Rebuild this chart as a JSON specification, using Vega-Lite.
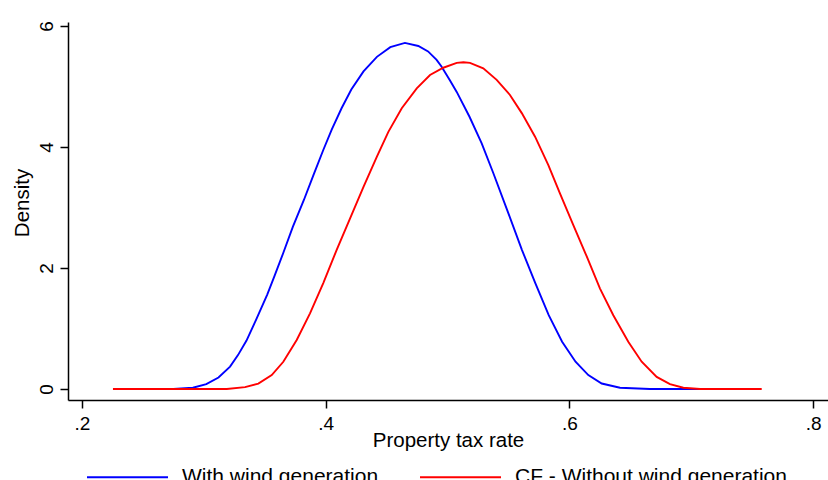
{
  "$schema": "https://vega.github.io/schema/vega-lite/v6.json",
  "width": 760,
  "height": 378,
  "autosize": {"type": "none"},
  "padding": {"left": 68, "top": 22, "right": 0, "bottom": 80},
  "background": "white",
  "config": {
    "view": {"stroke": null},
    "font": "Liberation Sans",
    "axis": {
      "grid": false,
      "domainColor": "black",
      "tickColor": "black",
      "labelColor": "black",
      "titleColor": "black",
      "domainWidth": 1.5,
      "tickWidth": 1.5,
      "labelFont": "Liberation Sans",
      "titleFont": "Liberation Sans",
      "titleFontWeight": "normal",
      "labelFlush": false,
      "labelOverlap": false
    }
  },
  "data": {
    "values": [
      {"x": 0.275, "y": 0, "series": "With wind generation"},
      {"x": 0.291, "y": 0.02, "series": "With wind generation"},
      {"x": 0.302, "y": 0.08, "series": "With wind generation"},
      {"x": 0.312, "y": 0.19, "series": "With wind generation"},
      {"x": 0.3215, "y": 0.37, "series": "With wind generation"},
      {"x": 0.328, "y": 0.56, "series": "With wind generation"},
      {"x": 0.335, "y": 0.80, "series": "With wind generation"},
      {"x": 0.343, "y": 1.15, "series": "With wind generation"},
      {"x": 0.352, "y": 1.56, "series": "With wind generation"},
      {"x": 0.358, "y": 1.87, "series": "With wind generation"},
      {"x": 0.365, "y": 2.24, "series": "With wind generation"},
      {"x": 0.373, "y": 2.68, "series": "With wind generation"},
      {"x": 0.382, "y": 3.12, "series": "With wind generation"},
      {"x": 0.390, "y": 3.54, "series": "With wind generation"},
      {"x": 0.398, "y": 3.95, "series": "With wind generation"},
      {"x": 0.405, "y": 4.29, "series": "With wind generation"},
      {"x": 0.413, "y": 4.64, "series": "With wind generation"},
      {"x": 0.421, "y": 4.95, "series": "With wind generation"},
      {"x": 0.431, "y": 5.25, "series": "With wind generation"},
      {"x": 0.442, "y": 5.49, "series": "With wind generation"},
      {"x": 0.453, "y": 5.65, "series": "With wind generation"},
      {"x": 0.465, "y": 5.72, "series": "With wind generation"},
      {"x": 0.476, "y": 5.67, "series": "With wind generation"},
      {"x": 0.484, "y": 5.58, "series": "With wind generation"},
      {"x": 0.491, "y": 5.44, "series": "With wind generation"},
      {"x": 0.495, "y": 5.33, "series": "With wind generation"},
      {"x": 0.502, "y": 5.10, "series": "With wind generation"},
      {"x": 0.5075, "y": 4.91, "series": "With wind generation"},
      {"x": 0.518, "y": 4.50, "series": "With wind generation"},
      {"x": 0.528, "y": 4.06, "series": "With wind generation"},
      {"x": 0.5375, "y": 3.57, "series": "With wind generation"},
      {"x": 0.550, "y": 2.90, "series": "With wind generation"},
      {"x": 0.561, "y": 2.30, "series": "With wind generation"},
      {"x": 0.572, "y": 1.75, "series": "With wind generation"},
      {"x": 0.583, "y": 1.22, "series": "With wind generation"},
      {"x": 0.594, "y": 0.78, "series": "With wind generation"},
      {"x": 0.605, "y": 0.45, "series": "With wind generation"},
      {"x": 0.6155, "y": 0.23, "series": "With wind generation"},
      {"x": 0.6265, "y": 0.09, "series": "With wind generation"},
      {"x": 0.6415, "y": 0.02, "series": "With wind generation"},
      {"x": 0.666, "y": 0, "series": "With wind generation"},
      {"x": 0.707, "y": 0, "series": "With wind generation"},
      {"x": 0.2254, "y": 0, "series": "CF - Without wind generation"},
      {"x": 0.3188, "y": 0, "series": "CF - Without wind generation"},
      {"x": 0.3338, "y": 0.03, "series": "CF - Without wind generation"},
      {"x": 0.3447, "y": 0.09, "series": "CF - Without wind generation"},
      {"x": 0.3557, "y": 0.23, "series": "CF - Without wind generation"},
      {"x": 0.3652, "y": 0.45, "series": "CF - Without wind generation"},
      {"x": 0.3762, "y": 0.81, "series": "CF - Without wind generation"},
      {"x": 0.3871, "y": 1.25, "series": "CF - Without wind generation"},
      {"x": 0.398, "y": 1.75, "series": "CF - Without wind generation"},
      {"x": 0.409, "y": 2.30, "series": "CF - Without wind generation"},
      {"x": 0.420, "y": 2.82, "series": "CF - Without wind generation"},
      {"x": 0.431, "y": 3.34, "series": "CF - Without wind generation"},
      {"x": 0.442, "y": 3.84, "series": "CF - Without wind generation"},
      {"x": 0.4514, "y": 4.25, "series": "CF - Without wind generation"},
      {"x": 0.4624, "y": 4.64, "series": "CF - Without wind generation"},
      {"x": 0.4747, "y": 4.97, "series": "CF - Without wind generation"},
      {"x": 0.4856, "y": 5.19, "series": "CF - Without wind generation"},
      {"x": 0.4965, "y": 5.31, "series": "CF - Without wind generation"},
      {"x": 0.5075, "y": 5.39, "series": "CF - Without wind generation"},
      {"x": 0.513, "y": 5.40, "series": "CF - Without wind generation"},
      {"x": 0.5184, "y": 5.39, "series": "CF - Without wind generation"},
      {"x": 0.5293, "y": 5.30, "series": "CF - Without wind generation"},
      {"x": 0.5403, "y": 5.11, "series": "CF - Without wind generation"},
      {"x": 0.5512, "y": 4.86, "series": "CF - Without wind generation"},
      {"x": 0.5609, "y": 4.56, "series": "CF - Without wind generation"},
      {"x": 0.5718, "y": 4.17, "series": "CF - Without wind generation"},
      {"x": 0.5827, "y": 3.70, "series": "CF - Without wind generation"},
      {"x": 0.5923, "y": 3.23, "series": "CF - Without wind generation"},
      {"x": 0.6032, "y": 2.71, "series": "CF - Without wind generation"},
      {"x": 0.6142, "y": 2.19, "series": "CF - Without wind generation"},
      {"x": 0.6251, "y": 1.66, "series": "CF - Without wind generation"},
      {"x": 0.636, "y": 1.22, "series": "CF - Without wind generation"},
      {"x": 0.6483, "y": 0.78, "series": "CF - Without wind generation"},
      {"x": 0.6593, "y": 0.45, "series": "CF - Without wind generation"},
      {"x": 0.6716, "y": 0.20, "series": "CF - Without wind generation"},
      {"x": 0.6825, "y": 0.08, "series": "CF - Without wind generation"},
      {"x": 0.6935, "y": 0.02, "series": "CF - Without wind generation"},
      {"x": 0.7072, "y": 0, "series": "CF - Without wind generation"},
      {"x": 0.7578, "y": 0, "series": "CF - Without wind generation"}
    ]
  },
  "mark": {"type": "line", "strokeWidth": 1.9, "clip": false},
  "encoding": {
    "x": {
      "field": "x",
      "type": "quantitative",
      "scale": {"domain": [0.1885, 0.8122], "nice": false, "zero": false},
      "axis": {
        "values": [0.2, 0.4, 0.6, 0.8],
        "labelExpr": "substring(format(datum.value, '.1f'), 1)",
        "tickSize": 8,
        "labelPadding": 6,
        "labelFontSize": 19,
        "title": "Property tax rate",
        "titleFontSize": 20.5,
        "titleX": 380,
        "titleY": 46.7,
        "titleAlign": "center",
        "titleBaseline": "alphabetic"
      }
    },
    "y": {
      "field": "y",
      "type": "quantitative",
      "scale": {"domain": [-0.182, 6.066], "nice": false, "zero": false},
      "axis": {
        "values": [0, 2, 4, 6],
        "tickSize": 8,
        "labelAngle": -90,
        "labelAlign": "center",
        "labelBaseline": "bottom",
        "labelPadding": 4,
        "labelFontSize": 19,
        "title": "Density",
        "titleFontSize": 20.5,
        "titleAngle": -90,
        "titleX": -39.7,
        "titleY": 180.5,
        "titleAlign": "center",
        "titleBaseline": "alphabetic"
      }
    },
    "color": {
      "field": "series",
      "type": "nominal",
      "scale": {
        "domain": ["With wind generation", "CF - Without wind generation"],
        "range": ["#0000ff", "#ff0000"]
      },
      "legend": {
        "orient": "none",
        "legendX": 18,
        "legendY": 413.5,
        "direction": "horizontal",
        "title": null,
        "symbolType": "stroke",
        "symbolSize": 6561,
        "symbolStrokeWidth": 1.9,
        "labelFontSize": 21,
        "labelFont": "Liberation Sans",
        "labelColor": "black",
        "labelOffset": 13,
        "columnPadding": 37,
        "padding": 0,
        "labelLimit": 0
      }
    },
    "order": {"field": "x", "type": "quantitative"}
  }
}
